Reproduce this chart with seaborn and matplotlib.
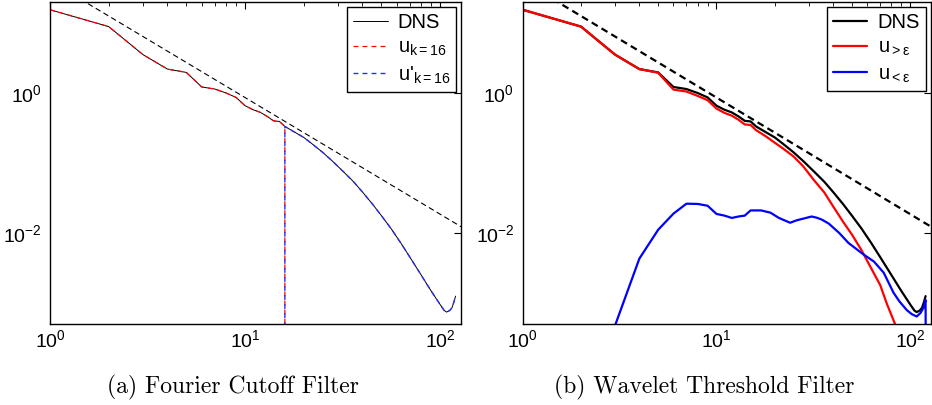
import numpy as np
import pandas as pd
import matplotlib
matplotlib.use("Agg")
import matplotlib.pyplot as plt
from matplotlib.lines import Line2D
import seaborn as sns
from matplotlib.ticker import NullLocator

# ---------------- data ----------------
k_dns = [1, 2, 3, 4, 5, 6, 7, 8, 9, 10, 11, 12, 13, 14, 15, 16,
         18, 20, 22, 25, 28, 32, 36, 40, 45, 50, 56, 63, 70, 80, 90,
         100, 105, 108, 112, 115, 118, 120]
E_dns = [15.5, 8.9, 3.53, 2.2, 1.97, 1.22, 1.14, 1.0, 0.865, 0.659, 0.577,
         0.528, 0.463, 0.40, 0.393, 0.333,
         0.275, 0.232, 0.189, 0.142, 0.107, 0.0747, 0.054, 0.0385, 0.0259,
         0.0177, 0.0116, 0.00714, 0.00451, 0.0025, 0.00148,
         0.00095, 0.00078, 0.00074, 0.00078, 0.00085, 0.00105, 0.00125]

cutoff_k = 16

k_large = [1, 2, 3, 4, 5, 6, 7, 8, 9, 10, 11, 12, 13, 14, 15, 16,
           18, 20, 22, 25, 28, 32, 36, 40, 45, 50, 56, 63, 70, 76, 83, 90]
E_large = [15.5, 8.9, 3.53, 2.2, 1.95, 1.12, 1.05, 0.91, 0.79, 0.60, 0.52,
           0.475, 0.415, 0.355, 0.35, 0.295,
           0.24, 0.195, 0.162, 0.124, 0.09, 0.056, 0.038, 0.024, 0.0145,
           0.0095, 0.0057, 0.0031, 0.0018, 0.00095, 0.00052, 0.00028]

k_small = [3, 4, 5, 6, 7, 8, 9, 10, 11, 12, 13, 14, 15, 17, 19, 21, 24, 26,
           28, 31, 33, 35, 38, 43, 48, 57, 65, 73, 82, 88, 96, 102, 108,
           113, 117, 120, 121]
E_small = [4.8e-4, 0.0043, 0.0111, 0.0189, 0.0262, 0.026, 0.0245, 0.0187,
           0.0177, 0.0164, 0.0172, 0.0177, 0.021, 0.021, 0.0195, 0.0164,
           0.014, 0.0152, 0.016, 0.0172, 0.0165, 0.0155, 0.0136, 0.0100,
           0.0072, 0.0050, 0.0039, 0.0027, 0.0014, 0.00105, 0.00079,
           0.00069, 0.00064, 0.00072, 0.00085, 0.0011, 1e-6]

ref_coeff = 40.0
ref_slope = -5.0 / 3.0
ref_k = [1, 128]

x_limits = (1, 128)
y_limits = (5e-4, 20)
y_ticks = [1e-2, 1e0]

labels_a = ["DNS", r"u$_{\mathrm{k=16}}$", r"u$'_{\mathrm{k=16}}$"]
labels_b = ["DNS", r"u$_{\mathrm{>ε}}$", r"u$_{\mathrm{<ε}}$"]
captions = ["(a) Fourier Cutoff Filter", "(b) Wavelet Threshold Filter"]

# ---------------- style ----------------
sns.set_theme(style="white")
plt.rcParams.update({
    "font.family": ["Liberation Sans", "DejaVu Sans"],
    "mathtext.fontset": "custom",
    "mathtext.rm": "Liberation Sans",
    "mathtext.it": "Liberation Sans:italic",
    "mathtext.bf": "Liberation Sans:bold",
    "mathtext.sf": "Liberation Sans",
    "axes.edgecolor": "black",
    "axes.linewidth": 1.0,
    "text.color": "black",
    "xtick.color": "black",
    "ytick.color": "black",
    "lines.scale_dashes": False,
    "axes.unicode_minus": True,
})

fig = plt.figure(figsize=(9.32, 4.05), dpi=100)
ax_a = fig.add_axes([50 / 932, 81 / 405, 411 / 932, 322 / 405])
ax_b = fig.add_axes([522.7 / 932, 81 / 405, 408.3 / 932, 322 / 405])

ref_E = [ref_coeff * kk ** ref_slope for kk in ref_k]

RED = "#ff0000"
BLUE = "#2a2aff"
dash_a = (0, (3.5, 3.0))
dash_a_off = (1.6, (3.5, 3.0))


def lp(ax, x, y, **kw):
    sns.lineplot(x=x, y=y, ax=ax, estimator=None, sort=False, legend=False, **kw)


# ---- panel (a) ----
kd = np.array(k_dns, dtype=float)
Ed = np.array(E_dns, dtype=float)
low_k = list(kd[kd <= cutoff_k]) + [cutoff_k]
low_E = list(Ed[kd <= cutoff_k]) + [0.0]
high_k = [cutoff_k] + list(kd[kd >= cutoff_k])
high_E = [0.0] + list(Ed[kd >= cutoff_k])

lp(ax_a, k_dns, E_dns, color="black", lw=0.7)
lp(ax_a, low_k, low_E, color=RED, lw=0.9, linestyle=dash_a)
lp(ax_a, high_k, high_E, color=BLUE, lw=1.0, linestyle=dash_a_off)
lp(ax_a, ref_k, ref_E, color="black", lw=0.8, linestyle=(0, (4, 2.5)))
h_a = [Line2D([], [], color="black", lw=0.7),
       Line2D([], [], color=RED, lw=0.9, linestyle=dash_a),
       Line2D([], [], color=BLUE, lw=1.0, linestyle=dash_a)]

# ---- panel (b) ----
lp(ax_b, k_dns, E_dns, color="black", lw=1.6)
lp(ax_b, k_large, E_large, color=RED, lw=1.6)
lp(ax_b, k_small, E_small, color="#0000ff", lw=1.6)
lp(ax_b, ref_k, ref_E, color="black", lw=1.6, linestyle=(0, (5, 3.2)))
h_b = [Line2D([], [], color="black", lw=1.6),
       Line2D([], [], color=RED, lw=1.6),
       Line2D([], [], color="#0000ff", lw=1.6)]

for ax, cap, cx, hs, lbs in ((ax_a, captions[0], 233 / 932, h_a, labels_a),
                             (ax_b, captions[1], 704 / 932, h_b, labels_b)):
    ax.set_xscale("log")
    ax.set_yscale("log")
    ax.set_xlim(*x_limits)
    ax.set_ylim(*y_limits)
    ax.set_yticks(y_ticks)
    ax.yaxis.set_minor_locator(NullLocator())
    ax.set_xlabel("")
    ax.set_ylabel("")
    ax.tick_params(which="both", direction="in", top=True, right=True,
                   labelsize=14)
    ax.tick_params(axis="x", which="major", length=5, width=0.8, pad=4)
    ax.tick_params(axis="x", which="minor", length=3, width=0.6)
    ax.tick_params(axis="y", which="major", length=5, width=0.8, pad=6)
    for s in ax.spines.values():
        s.set_color("black")
        s.set_linewidth(1.0)
    leg = ax.legend(hs, lbs, loc="upper right", fontsize=14.5,
                    frameon=True, fancybox=False, framealpha=1,
                    edgecolor="black", handlelength=1.7, handletextpad=0.5,
                    borderaxespad=0.25, labelspacing=0.3, borderpad=0.3)
    leg.get_frame().set_linewidth(1.0)
    fig.text(cx, 12 / 405, cap, ha="center", va="baseline",
             fontfamily="cmr10", fontsize=17)

fig.savefig("out.png", dpi=100)
